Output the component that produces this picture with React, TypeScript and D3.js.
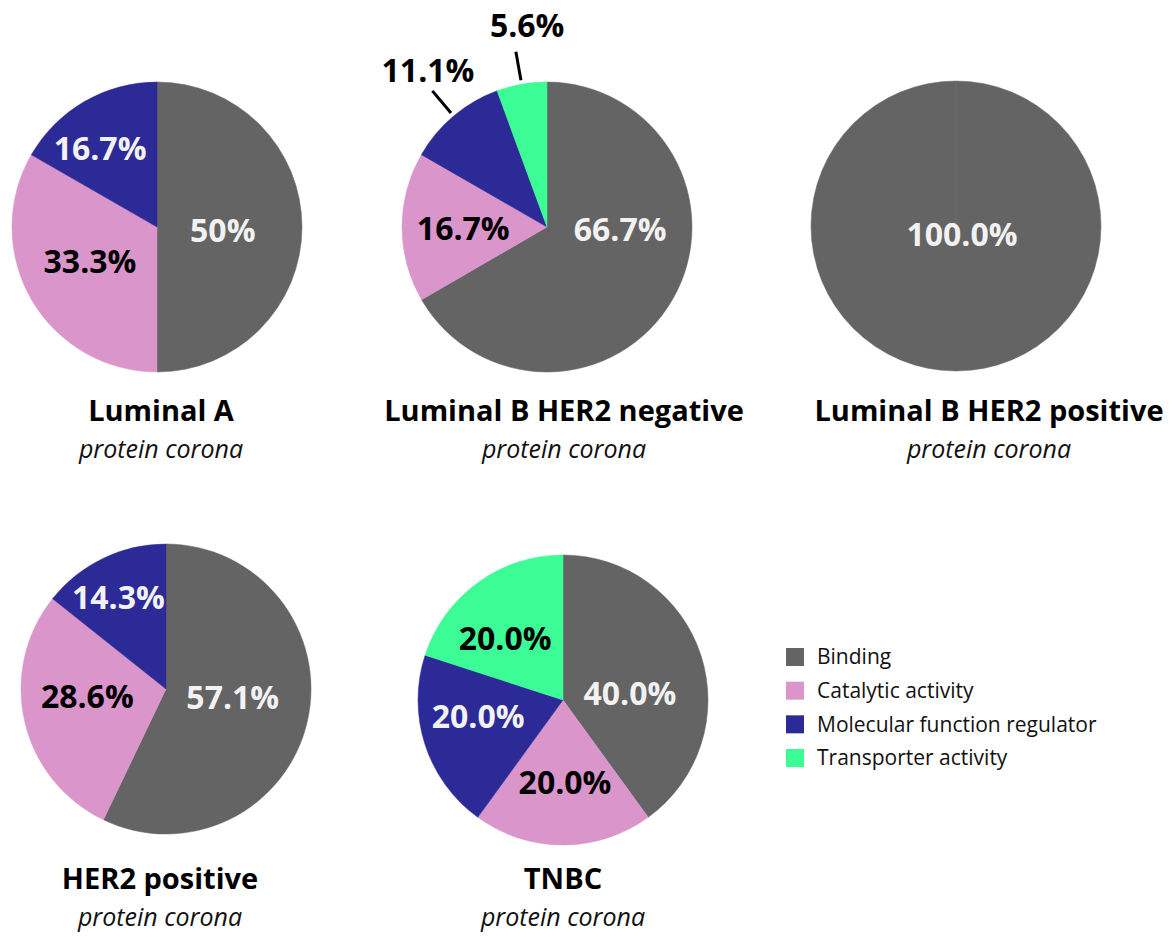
import React from "react";
import * as d3 from "d3";

// ---- data ----
const categories = ["Binding", "Catalytic activity", "Molecular function regulator", "Transporter activity"];
const categoryColors = ["#646464", "#DA96CB", "#2C2A96", "#3CFC96"];
const panelTitles = ["Luminal A", "Luminal B HER2 negative", "Luminal B HER2 positive", "HER2 positive", "TNBC"];
const panelSubtitle = "protein corona";
const luminalA = [50, 33.3, 16.7, 0];
const luminalBNeg = [66.7, 16.7, 11.1, 5.6];
const luminalBPos = [100, 0, 0, 0];
const her2Pos = [57.1, 28.6, 14.3, 0];
const tnbc = [40, 20, 20, 20];

// ---- layout ----
const W = 1173;
const H = 937;
const R = 145;
const FONT = "'Open Sans', 'Noto Sans', sans-serif";
const labelColors = ["#F2F2F2", "#000000", "#F2F2F2", "#000000"];

type Panel = {
  values: number[];
  title: string;
  cx: number;
  cy: number;
  tx: number;
  ty: number;
  decimals: boolean;
  outside: number[];
  nudge: number[][];
};

const panels: Panel[] = [
  { values: luminalA, title: panelTitles[0], cx: 157, cy: 227, tx: 161, ty: 421, decimals: false, outside: [],
    nudge: [[-14, 3], [2, -5], [-17, -10], [0, 0]] },
  { values: luminalBNeg, title: panelTitles[1], cx: 547, cy: 227, tx: 564, ty: 421, decimals: true, outside: [2, 3],
    nudge: [[4, -37], [-4, 1], [13, 0], [16, 0]] },
  { values: luminalBPos, title: panelTitles[2], cx: 956, cy: 226, tx: 989, ty: 421, decimals: true, outside: [],
    nudge: [[6, -71], [0, 0], [0, 0], [0, 0]] },
  { values: her2Pos, title: panelTitles[3], cx: 166, cy: 689, tx: 160, ty: 889, decimals: true, outside: [],
    nudge: [[-11, -9], [-1, -10], [-13, -20], [0, 0]] },
  { values: tnbc, title: panelTitles[4], cx: 563, cy: 700, tx: 563, ty: 889, decimals: true, outside: [],
    nudge: [[-9, 18], [2, 3], [-9, -8], [-11, 3]] },
];

const pieGen = d3.pie<number>().sort(null).value((d) => d);
const arcGen = d3.arc<d3.PieArcDatum<number>>().innerRadius(0).outerRadius(R);
const labelArc = d3.arc<d3.PieArcDatum<number>>().innerRadius(R * 0.55).outerRadius(R * 0.55);

const fmtLabel = (v: number, decimals: boolean) => (decimals ? d3.format(".1f")(v) : String(v)) + "%";

function polar(angle: number, radius: number): [number, number] {
  return [Math.sin(angle) * radius, -Math.cos(angle) * radius];
}

function PiePanel({ p }: { p: Panel }) {
  const arcs = pieGen(p.values);
  return (
    <g>
      <g transform={`translate(${p.cx},${p.cy})`}>
        {arcs.map((a, i) =>
          a.value > 0 ? (
            <path key={i} d={arcGen(a) || ""} fill={categoryColors[i]} stroke={categoryColors[i]} strokeWidth={0.5} />
          ) : null
        )}
        {p.values.length && p.values[0] === 100 ? (
          <line x1={0} y1={-R} x2={0} y2={0} stroke="#707070" strokeWidth={0.8} />
        ) : null}
        {arcs.map((a, i) => {
          if (a.value <= 0) return null;
          const [nx, ny] = p.nudge[i];
          const txt = fmtLabel(a.value, p.decimals);
          if (p.outside.includes(i)) {
            const mid = (a.startAngle + a.endAngle) / 2;
            const [x1, y1] = polar(mid, R + 4);
            const [x2, y2] = polar(mid, R + 33);
            const [lx, ly] = polar(mid, R + 60);
            return (
              <g key={"l" + i}>
                <line x1={x1} y1={y1} x2={x2} y2={y2} stroke="#000" strokeWidth={3} />
                <text x={lx + nx} y={ly + ny} dy="0.36em" textAnchor="middle" fontFamily={FONT}
                  fontWeight={700} fontSize={32} fill="#000">{txt}</text>
              </g>
            );
          }
          const [cx, cy] = labelArc.centroid(a);
          return (
            <text key={"l" + i} x={cx + nx} y={cy + ny} dy="0.36em" textAnchor="middle" fontFamily={FONT}
              fontWeight={700} fontSize={32} fill={labelColors[i]}>{txt}</text>
          );
        })}
      </g>
      <text x={p.tx} y={p.ty} textAnchor="middle" fontFamily={FONT} fontWeight={700} fontSize={29} fill="#000">
        {p.title}
      </text>
      <text x={p.tx} y={p.ty + 37} textAnchor="middle" fontFamily={FONT} fontStyle="italic" fontSize={25} fill="#111">
        {panelSubtitle}
      </text>
    </g>
  );
}

function Legend() {
  const y = d3.scalePoint<string>().domain(categories).range([657, 758]);
  return (
    <g>
      {categories.map((c, i) => (
        <g key={c} transform={`translate(786,${y(c)})`}>
          <rect x={0} y={-9} width={18} height={18} fill={categoryColors[i]} />
          <text x={31} y={0} dy="0.35em" fontFamily={FONT} fontSize={21} fill="#111">{c}</text>
        </g>
      ))}
    </g>
  );
}

export default function App() {
  return (
    <svg width={W} height={H} viewBox={`0 0 ${W} ${H}`}
      style={{ position: "absolute", left: 0, top: 0, background: "#fff" }}>
      <rect width={W} height={H} fill="#fff" />
      {panels.map((p, i) => (
        <PiePanel key={i} p={p} />
      ))}
      <Legend />
    </svg>
  );
}
